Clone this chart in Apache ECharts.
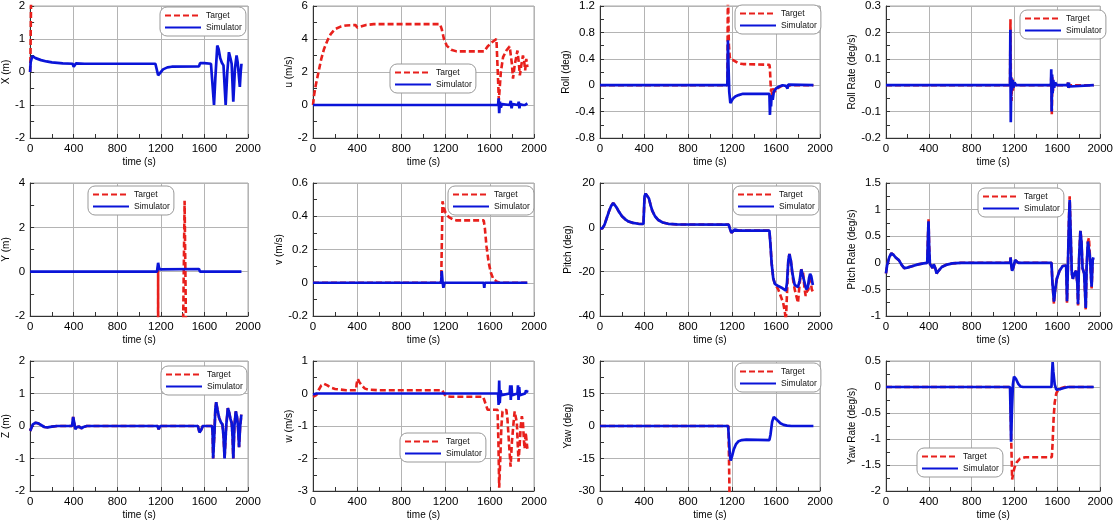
<!DOCTYPE html>
<html><head><meta charset="utf-8">
<script src="https://cdn.jsdelivr.net/npm/echarts@6/dist/echarts.min.js"></script>
<style>html,body{margin:0;padding:0;background:#fff}#c{width:1116px;height:521px}</style>
</head><body><div id="c"></div>
<script>
// ---- data: [time (s), value] ----
const xTarget=[[0,0],[3,0.4],[10,2.6],[20,5],[1940,5]];
const xSim=[[0,0],[5,0.3],[20,0.48],[50,0.42],[100,0.36],[150,0.32],[200,0.29],[300,0.26],[390,0.25],[400,0.16],[410,0.2],[420,0.26],[500,0.25],[1150,0.25],[1160,0.2],[1175,-0.1],[1190,-0.05],[1220,0.08],[1260,0.14],[1300,0.16],[1550,0.17],[1560,0.27],[1600,0.27],[1660,0.25],[1675,0.2],[1688,-1.0],[1700,-0.2],[1718,0.8],[1730,0.7],[1745,0.42],[1760,0.28],[1775,0.2],[1795,-1.0],[1810,0.0],[1825,0.6],[1840,0.4],[1850,0.25],[1865,-0.9],[1880,0.1],[1895,0.5],[1905,0.3],[1925,-0.45],[1933,0.0],[1940,0.25]];
const uTarget=[[0,0],[10,0.6],[25,1.2],[50,2.0],[75,2.8],[100,3.4],[130,3.9],[160,4.3],[200,4.6],[250,4.75],[300,4.82],[385,4.85],[400,4.7],[430,4.75],[480,4.85],[550,4.9],[1150,4.9],[1165,4.6],[1185,4.0],[1210,3.6],[1250,3.35],[1300,3.25],[1550,3.25],[1580,3.55],[1620,3.8],[1660,4.0],[1670,3.9],[1682,0.3],[1700,2.0],[1720,2.9],[1750,3.3],[1780,3.55],[1800,2.5],[1810,1.6],[1825,2.4],[1850,3.3],[1862,2.6],[1872,1.8],[1885,2.4],[1900,3.0],[1912,2.6],[1920,2.1],[1930,2.8],[1940,2.3]];
const uSim=[[0,0],[1160,0],[1165,0.02],[1170,0],[1675,0],[1680,0.4],[1685,-0.5],[1692,0.2],[1700,-0.15],[1710,0.05],[1720,0],[1780,0],[1790,0.25],[1797,-0.2],[1805,0.05],[1812,0],[1855,0],[1862,0.2],[1868,-0.2],[1875,0.05],[1880,0],[1900,0],[1907,0.12],[1912,-0.08],[1920,0],[1935,0.05],[1940,0.1]];
const rollTarget=[[0,0],[1158,0],[1163,1.6],[1168,0.9],[1172,0.6],[1180,0.42],[1190,0.38],[1210,0.38],[1230,0.36],[1260,0.33],[1300,0.32],[1540,0.31],[1545,0.25],[1550,0.05],[1555,-0.1],[1560,-0.05],[1565,-0.15],[1575,-0.05],[1590,-0.1],[1610,-0.05],[1640,-0.02],[1670,0],[1700,-0.02],[1710,0.01],[1730,0],[1940,0]];
const rollSim=[[0,0],[1158,0],[1163,0.68],[1168,0.3],[1175,-0.1],[1185,-0.27],[1195,-0.25],[1210,-0.2],[1230,-0.17],[1260,-0.15],[1300,-0.13],[1540,-0.13],[1545,-0.45],[1550,-0.2],[1555,-0.32],[1560,-0.15],[1570,-0.22],[1580,-0.1],[1600,-0.05],[1630,-0.02],[1660,0],[1690,-0.01],[1700,0.02],[1705,-0.05],[1712,0.01],[1725,0],[1940,0]];
const rollRateTarget=[[0,0],[1158,0],[1162,0.25],[1166,0.02],[1172,-0.06],[1178,0.03],[1185,-0.02],[1195,0.01],[1210,0],[1540,0],[1544,0.04],[1548,-0.11],[1553,0.03],[1560,-0.02],[1570,0.01],[1585,0],[1695,0],[1700,0.01],[1705,-0.01],[1712,0],[1940,0]];
const rollRateSim=[[0,0],[1158,0],[1161,0.21],[1165,-0.14],[1170,0.03],[1176,-0.02],[1183,0.02],[1190,-0.01],[1200,0.01],[1215,0],[1540,0],[1543,0.06],[1547,-0.1],[1551,0.04],[1556,-0.03],[1562,0.02],[1570,-0.01],[1580,0.01],[1595,0],[1695,0],[1700,0.01],[1704,-0.01],[1708,0.01],[1712,-0.005],[1720,0],[1940,0]];
const yTarget=[[0,-40],[1165,-40],[1175,0.2],[1180,-40],[1400,-40],[1403,-3],[1418,3.2],[1432,-3],[1435,-40],[1940,-40]];
const ySim=[[0,0],[1165,0],[1170,0.2],[1175,0.4],[1182,0.2],[1190,0.1],[1200,0.12],[1550,0.12],[1560,0.0],[1570,-0.03],[1600,0],[1940,0]];
const vTarget=[[0,0],[1160,0],[1165,0.2],[1172,0.49],[1185,0.45],[1200,0.42],[1230,0.395],[1270,0.38],[1300,0.375],[1545,0.375],[1555,0.33],[1570,0.22],[1590,0.12],[1610,0.06],[1630,0.025],[1660,0.008],[1690,0],[1940,0]];
const vSim=[[0,0],[1160,0],[1165,0.07],[1172,0.01],[1180,-0.03],[1190,0.0],[1545,0],[1550,-0.03],[1555,0],[1940,0]];
const pitchTarget=[[0,-0.5],[20,-0.5],[40,1],[60,4],[80,7],[100,9.5],[120,11],[135,10.5],[150,9],[170,7.2],[200,5],[230,3.6],[260,2.6],[300,2],[350,1.6],[395,1.5],[405,14],[415,15.2],[430,14.5],[445,13],[460,10],[475,7.5],[500,5],[530,3.3],[570,2.2],[620,1.6],[700,1.3],[1170,1.2],[1180,-0.5],[1195,-2.5],[1210,-2],[1225,-1],[1240,-1],[1260,-1.5],[1540,-1.5],[1550,-8],[1560,-16],[1575,-23],[1590,-25.5],[1620,-28],[1650,-32],[1665,-34],[1680,-38],[1690,-42],[1700,-30],[1712,-15],[1722,-12],[1735,-15],[1750,-22],[1770,-28],[1790,-32],[1800,-34],[1810,-28],[1830,-19],[1845,-20],[1860,-28],[1870,-31],[1880,-29],[1895,-28],[1905,-22],[1915,-24],[1925,-28],[1935,-29]];
const pitchSim=[[0,-0.5],[20,-0.5],[40,1],[60,4],[80,7],[100,9.5],[120,11],[135,10.5],[150,9],[170,7.2],[200,5],[230,3.6],[260,2.6],[300,2],[350,1.6],[395,1.5],[405,14],[415,15.2],[430,14.5],[445,13],[460,10],[475,7.5],[500,5],[530,3.3],[570,2.2],[620,1.6],[700,1.3],[1170,1.2],[1180,-0.5],[1195,-2.5],[1210,-2],[1225,-1],[1240,-1],[1260,-1.5],[1540,-1.5],[1550,-8],[1560,-16],[1575,-23],[1590,-25.5],[1620,-26.5],[1660,-27.5],[1690,-28.5],[1700,-25],[1712,-15],[1722,-12],[1735,-15],[1750,-21],[1770,-26],[1800,-27],[1815,-24],[1830,-19],[1845,-19.5],[1860,-25],[1875,-28],[1890,-27],[1900,-23],[1910,-21],[1920,-22],[1935,-26]];
const pitchRateTarget=[[0,-0.2],[10,-0.05],[30,0.1],[50,0.18],[70,0.15],[90,0.1],[120,0.05],[150,-0.05],[170,-0.1],[200,-0.09],[250,-0.06],[300,-0.03],[350,-0.01],[385,0],[392,0.5],[397,0.82],[403,0.3],[410,-0.02],[425,-0.05],[435,-0.1],[445,-0.03],[460,-0.1],[472,-0.2],[490,-0.15],[520,-0.08],[560,-0.04],[620,-0.01],[700,0],[1160,0],[1163,0.1],[1170,-0.05],[1178,-0.15],[1190,-0.08],[1205,0.05],[1215,0.07],[1235,0.0],[1250,-0.03],[1270,0],[1545,0],[1555,-0.4],[1568,-0.77],[1580,-0.5],[1595,-0.3],[1620,-0.15],[1650,-0.06],[1682,-0.05],[1690,-0.75],[1698,-0.1],[1708,0.8],[1715,1.25],[1725,0.5],[1735,-0.2],[1745,-0.3],[1760,-0.2],[1775,-0.15],[1787,-0.4],[1793,-0.8],[1803,0.1],[1815,0.62],[1825,0.4],[1835,-0.1],[1850,-0.2],[1857,-0.5],[1865,-0.88],[1873,-0.1],[1885,0.4],[1895,0.47],[1905,0.1],[1915,-0.3],[1920,-0.48],[1930,0.05],[1937,0.1]];
const pitchRateSim=[[0,-0.2],[10,-0.05],[30,0.1],[50,0.18],[70,0.15],[90,0.1],[120,0.05],[150,-0.05],[170,-0.1],[200,-0.09],[250,-0.06],[300,-0.03],[350,-0.01],[385,0],[392,0.5],[397,0.78],[403,0.3],[410,-0.02],[425,-0.05],[435,-0.1],[445,-0.03],[460,-0.1],[472,-0.2],[490,-0.15],[520,-0.08],[560,-0.04],[620,-0.01],[700,0],[1160,0],[1163,0.1],[1170,-0.05],[1178,-0.15],[1190,-0.08],[1205,0.05],[1215,0.07],[1235,0.0],[1250,-0.03],[1270,0],[1545,0],[1555,-0.4],[1568,-0.73],[1580,-0.5],[1595,-0.3],[1620,-0.15],[1650,-0.06],[1682,-0.05],[1690,-0.72],[1698,-0.1],[1708,0.8],[1715,1.18],[1725,0.5],[1735,-0.2],[1745,-0.3],[1760,-0.2],[1775,-0.15],[1787,-0.4],[1793,-0.78],[1803,0.1],[1815,0.6],[1825,0.4],[1835,-0.1],[1850,-0.2],[1857,-0.5],[1865,-0.85],[1873,-0.1],[1885,0.4],[1895,0.43],[1905,0.1],[1915,-0.3],[1920,-0.45],[1930,0.05],[1937,0.1]];
const zSim=[[0,-0.15],[10,-0.1],[25,0.05],[50,0.1],[75,0.08],[100,0.03],[130,-0.03],[160,-0.04],[200,-0.02],[250,0],[385,0],[395,0.28],[405,0.1],[415,-0.1],[430,-0.03],[450,-0.02],[470,-0.07],[490,-0.03],[520,0],[1170,0],[1180,-0.1],[1195,0],[1210,0.02],[1225,0],[1540,0],[1555,-0.2],[1570,-0.12],[1585,0],[1670,0],[1675,-0.2],[1680,-1.0],[1692,-0.2],[1700,0.5],[1708,0.73],[1720,0.5],[1735,0.25],[1750,0.12],[1765,0.05],[1775,-0.3],[1785,-1.0],[1800,0.0],[1815,0.55],[1825,0.45],[1840,0.2],[1850,0.1],[1858,-0.3],[1865,-1.0],[1875,0.0],[1888,0.45],[1898,0.3],[1908,0.0],[1918,-0.65],[1928,0.0],[1939,0.35]];
const zTarget=zSim;
const wTarget=[[0,-0.1],[15,-0.15],[30,-0.05],[50,0.1],[75,0.25],[100,0.3],[130,0.25],[160,0.18],[200,0.14],[300,0.1],[390,0.1],[395,0.3],[405,0.45],[420,0.35],[440,0.25],[470,0.15],[500,0.12],[600,0.1],[1170,0.1],[1185,0.0],[1200,-0.08],[1250,-0.1],[1540,-0.1],[1550,-0.2],[1565,-0.35],[1580,-0.5],[1670,-0.5],[1678,-1.5],[1685,-2.9],[1695,-2.0],[1705,-1.0],[1715,-0.55],[1725,-0.5],[1750,-0.5],[1760,-0.8],[1775,-1.6],[1788,-2.25],[1800,-1.5],[1815,-0.9],[1825,-0.55],[1835,-0.5],[1845,-0.9],[1852,-1.5],[1860,-2.1],[1870,-1.6],[1880,-1.0],[1890,-0.7],[1900,-0.9],[1910,-1.5],[1915,-1.7],[1925,-1.2],[1932,-1.25],[1940,-1.7]];
const wSim=[[0,-0.03],[30,0],[395,0],[400,0.05],[405,0],[1675,0],[1680,-0.35],[1685,0.4],[1690,-0.3],[1697,0.1],[1705,-0.05],[1715,0],[1780,0],[1785,0.25],[1790,-0.2],[1796,0.25],[1802,-0.05],[1810,0],[1850,0],[1855,0.25],[1860,-0.2],[1866,0.2],[1872,-0.05],[1880,0],[1920,0],[1928,0.1],[1935,0.03],[1940,0.1]];
const yawTarget=[[0,0],[1168,0],[1180,-40],[1200,-60],[1550,-500],[1600,-540],[1940,-540]];
const yawSim=[[0,0],[1165,0],[1172,-6],[1180,-13],[1188,-16],[1200,-14],[1215,-11],[1235,-8.5],[1260,-7],[1290,-6.5],[1330,-6.3],[1540,-6.5],[1550,-4],[1565,2],[1580,4.2],[1595,3.8],[1615,2.5],[1640,1.3],[1670,0.5],[1700,0.15],[1740,0],[1940,0]];
const yawRateTarget=[[0,0],[1160,0],[1170,-1.1],[1178,-1.78],[1188,-1.65],[1200,-1.55],[1220,-1.45],[1250,-1.38],[1300,-1.35],[1548,-1.35],[1555,-1.1],[1565,-0.6],[1575,-0.3],[1590,-0.12],[1610,-0.05],[1640,-0.02],[1670,0],[1940,0]];
const yawRateSim=[[0,0],[1158,0],[1163,-0.5],[1168,-1.05],[1175,-0.5],[1185,0.05],[1195,0.2],[1202,0.22],[1215,0.15],[1235,0.06],[1255,0.01],[1280,0],[1545,0],[1550,0.25],[1556,0.48],[1562,0.3],[1575,0.05],[1590,-0.05],[1605,-0.07],[1630,-0.04],[1660,-0.02],[1700,0],[1940,0]];

const yNames=['X (m)','u (m/s)','Roll (deg)','Roll Rate (deg/s)','Y (m)','v (m/s)','Pitch (deg)','Pitch Rate (deg/s)','Z (m)','w (m/s)','Yaw (deg)','Yaw Rate (deg/s)'];
const yMins=[-2,-2,-0.8,-0.2,-2,-0.2,-40,-1,-2,-3,-30,-2];
const yMaxs=[2,6,1.2,0.3,4,0.6,20,1.5,2,1,30,0.5];
const ySteps=[1,2,0.4,0.1,2,0.2,20,0.5,1,1,15,0.5];
const targets=[xTarget,uTarget,rollTarget,rollRateTarget,yTarget,vTarget,pitchTarget,pitchRateTarget,zTarget,wTarget,yawTarget,yawRateTarget];
const sims=[xSim,uSim,rollSim,rollRateSim,ySim,vSim,pitchSim,pitchRateSim,zSim,wSim,yawSim,yawRateSim];
const xName='time (s)';
const seriesNames=['Target','Simulator'];

// ---- layout ----
const colLeft=[28,313,600,886], colW=[220,221,220,219], nameGaps=[19,18,27,28];
const rowTop=[5,183,361], rowH=133;
const legPos=[[160,7],[390,64],[735,5],[1020,10],[88,186],[448,186],[733,186],[978,188],[161,366],[400,433],[735,363],[917,448]];
const FONT='Liberation Sans, Arial, sans-serif';
const RED='#e8201c', BLUE='#0a14d8';
const fmt=v=>String(+(+v).toFixed(4));

const grid=[],xAxis=[],yAxis=[],series=[],legend=[];
for(let i=0;i<12;i++){
  const r=Math.floor(i/4), c=i%4;
  grid.push({left:colLeft[c],top:rowTop[r],width:colW[c],height:rowH,show:true,borderColor:'#a8a8a8',borderWidth:1,backgroundColor:'transparent'});
  const common={
    axisLine:{show:true,onZero:false,lineStyle:{color:'#333',width:1}},
    axisTick:{show:true,inside:true,length:4,lineStyle:{color:'#333'}},
    minorTick:{show:true,splitNumber:2,length:4,lineStyle:{color:'#333'}},
    splitLine:{show:true,lineStyle:{color:'#b4b4b4',width:1}},
    axisLabel:{color:'#000',fontFamily:FONT,fontSize:11.5,margin:5,formatter:fmt},
    nameTextStyle:{color:'#000',fontFamily:FONT,fontSize:10}
  };
  xAxis.push(Object.assign({gridIndex:i,type:'value',min:0,max:2000,interval:400,name:xName,nameLocation:'middle',nameGap:19},common));
  yAxis.push(Object.assign({gridIndex:i,type:'value',min:yMins[i],max:yMaxs[i],interval:ySteps[i],name:yNames[i],nameLocation:'middle',nameGap:nameGaps[c]},common));
  series.push({name:seriesNames[0],type:'line',xAxisIndex:i,yAxisIndex:i,data:targets[i],symbol:'none',showSymbol:false,clip:true,animation:false,lineStyle:{color:RED,width:2.6,type:[6,3]},itemStyle:{color:RED},z:2});
  series.push({name:seriesNames[1],type:'line',xAxisIndex:i,yAxisIndex:i,data:sims[i],symbol:'none',showSymbol:false,clip:true,animation:false,lineStyle:{color:BLUE,width:2.7},itemStyle:{color:BLUE},z:3});
  legend.push({data:seriesNames,left:legPos[i][0],top:legPos[i][1],orient:'vertical',itemWidth:36,itemHeight:10,itemGap:3,padding:[4,4,4,4],
    backgroundColor:'#fff',borderColor:'#999',borderWidth:1,borderRadius:7,selectedMode:false,
    itemStyle:{color:'rgba(0,0,0,0)',borderColor:'rgba(0,0,0,0)',borderWidth:0,opacity:0},
    textStyle:{color:'#111',fontFamily:FONT,fontSize:8.5}});
}
const chart=echarts.init(document.getElementById('c'),null,{renderer:'canvas'});
chart.setOption({animation:false,backgroundColor:'#fff',grid,xAxis,yAxis,series,legend});
</script></body></html>
